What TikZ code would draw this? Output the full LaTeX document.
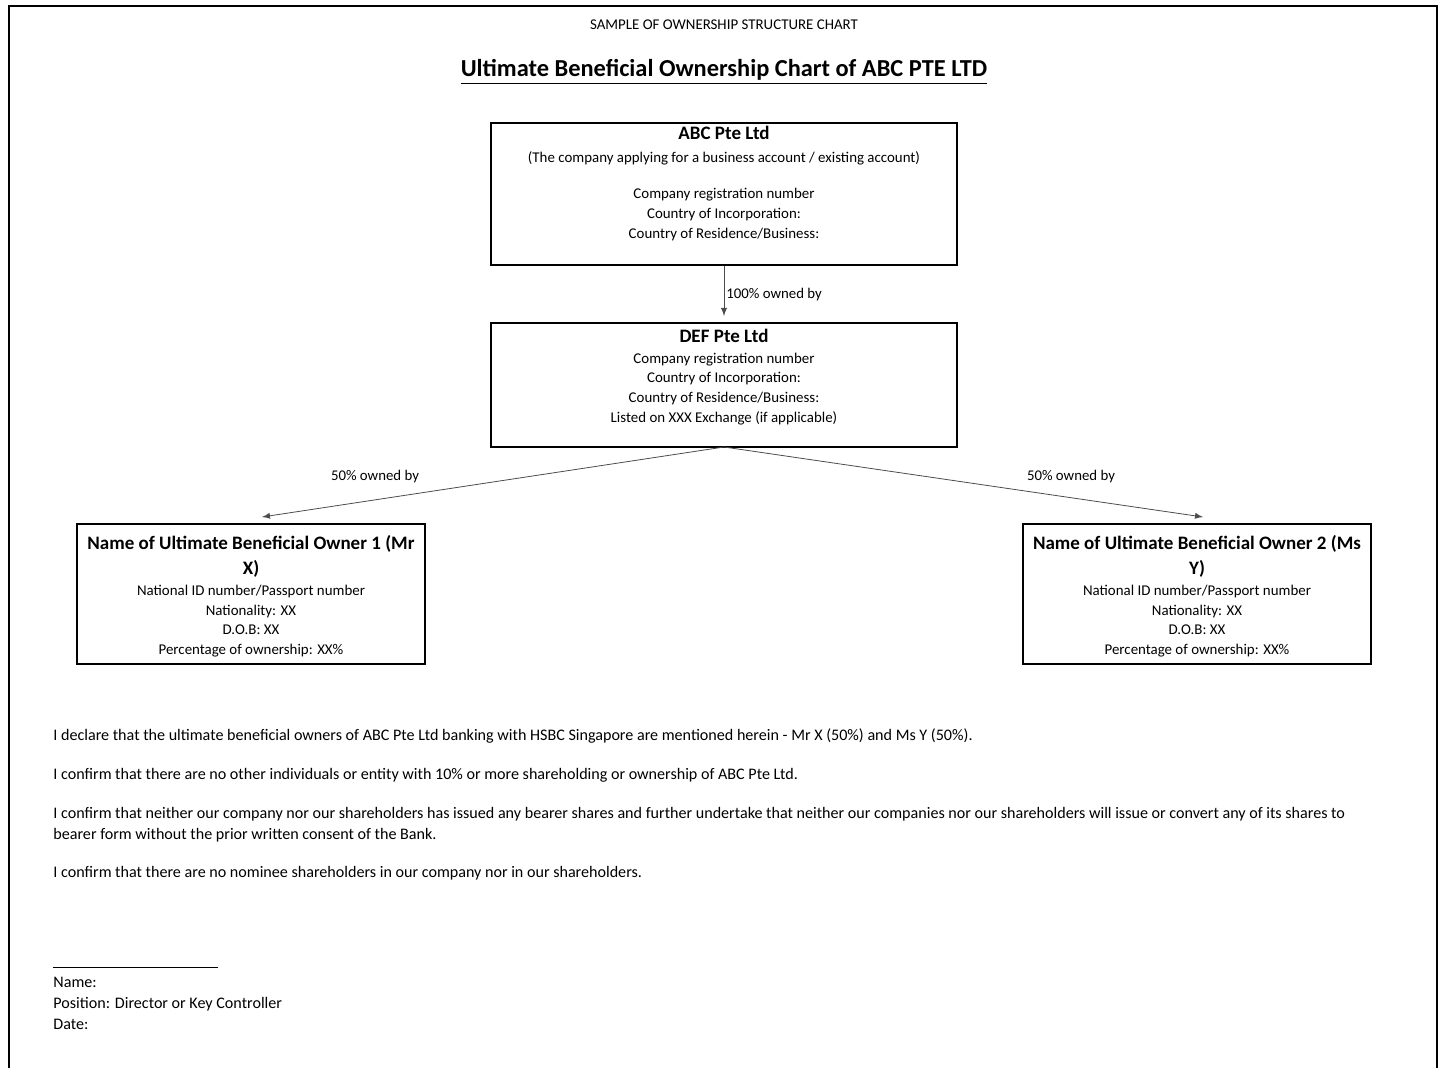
\documentclass[tikz,border=0pt]{standalone}
\usepackage{fontspec}
\setmainfont{Carlito}
\newcommand{\boxfont}{\fontsize{7.45}{9.8}\selectfont}
\newcommand{\headfont}{\fontsize{9.5}{11.5}\selectfont\bfseries}
\newcommand{\ownerfont}{\fontsize{9.5}{11.5}\selectfont\bfseries}
\newcommand{\bodyfont}{\fontsize{8.05}{10.5}\selectfont}

\begin{document}
\begin{tikzpicture}[x=0.5pt,y=-0.5pt,
    entity/.style = {draw, line width=1pt, rectangle, inner sep=0pt},
    boxtext/.style = {align=center, font=\boxfont, anchor=north, inner sep=0pt},
    owns/.style = {-latex, draw=black!70, line width=0.4pt},
    ownlabel/.style = {font=\fontsize{7.4}{9}\selectfont, inner sep=0pt},
    decl/.style = {font=\bodyfont, anchor=base west, inner sep=0pt}]
                \useasboundingbox (0,0) rectangle (1439,1068);
                \draw[line width=1.3pt] (9,1068) -- (9,6) -- (1437,6) -- (1437,1068);
                % titles
                \node[font=\fontsize{7.45}{8}\selectfont, inner sep=0pt] (sample) at (724,25) {SAMPLE OF OWNERSHIP STRUCTURE CHART};
                \node[font=\fontsize{12.2}{13}\selectfont\bfseries, inner sep=0pt] (title) at (724,72) {\underline{Ultimate Beneficial Ownership Chart of ABC PTE LTD}};
                % boxes
                \node[entity, minimum width=233pt, minimum height=71pt] (abc) at (724,194) {};
                \node[entity, minimum width=233pt, minimum height=62pt] (def) at (724,385) {};
                \node[entity, minimum width=174pt, minimum height=70pt] (ubo1) at (251,594) {};
                \node[entity, minimum width=174pt, minimum height=70pt] (ubo2) at (1197,594) {};
                \node[boxtext] (abctext) at (724,126) {{\headfont ABC Pte Ltd}\\[1.5pt]
                    (The company applying for a business account / existing account)\\[8.5pt]
                    Company registration number\\
                    Country of Incorporation:\\
                    Country of Residence/Business:};
                \node[boxtext] (deftext) at (724,329) {{\headfont DEF Pte Ltd}\\[0.5pt]
                    Company registration number\\
                    Country of Incorporation:\\
                    Country of Residence/Business:\\
                    Listed on XXX Exchange (if applicable)};
                \node[boxtext] (ubo1text) at (251,535) {{\ownerfont Name of Ultimate Beneficial Owner 1 (Mr}\\[2.5pt]
                    {\ownerfont X)}\\[1pt]
                    National ID number/Passport number\\
                    Nationality: XX\\
                    D.O.B: XX\\
                    Percentage of ownership: XX\%};
                \node[boxtext] (ubo2text) at (1197,535) {{\ownerfont Name of Ultimate Beneficial Owner 2 (Ms}\\[2.5pt]
                    {\ownerfont Y)}\\[1pt]
                    National ID number/Passport number\\
                    Nationality: XX\\
                    D.O.B: XX\\
                    Percentage of ownership: XX\%};
                % ownership arrows
                \coordinate (split) at (724,447);
                \coordinate (in1) at (262,517);
                \coordinate (in2) at (1203,517);
                \draw[owns] (abc.south) -- ([yshift=3pt]def.north);
                \draw[owns] (split) -- (in1);
                \draw[owns] (split) -- (in2);
                \node[ownlabel, anchor=west] (own100) at (726,295) {100\% owned by};
                \node[ownlabel] (own50a) at (375,477) {50\% owned by};
                \node[ownlabel] (own50b) at (1071,477) {50\% owned by};
                % declarations
                \node[decl] (d1) at (53,740) {I declare that the ultimate beneficial owners of ABC Pte Ltd banking with HSBC Singapore are mentioned herein - Mr X (50\%) and Ms Y (50\%).};
                \node[decl] (d2) at (53,779) {I confirm that there are no other individuals or entity with 10\% or more shareholding or ownership of ABC Pte Ltd.};
                \node[decl] (d3) at (53,818) {I confirm that neither our company nor our shareholders has issued any bearer shares and further undertake that neither our companies nor our shareholders will issue or convert any of its shares to};
                \node[decl] (d3b) at (53,839) {bearer form without the prior written consent of the Bank.};
                \node[decl] (d4) at (53,877) {I confirm that there are no nominee shareholders in our company nor in our shareholders.};
                % signature
                \coordinate (signl) at (53,967);
                \coordinate (signr) at (218,967);
                \draw[line width=0.5pt] (signl) -- (signr);
                \node[decl] (sname) at (53,987) {Name:};
                \node[decl] (spos) at (53,1008) {Position: Director or Key Controller};
                \node[decl] (sdate) at (53,1029) {Date:};
            \end{tikzpicture}
\end{document}
